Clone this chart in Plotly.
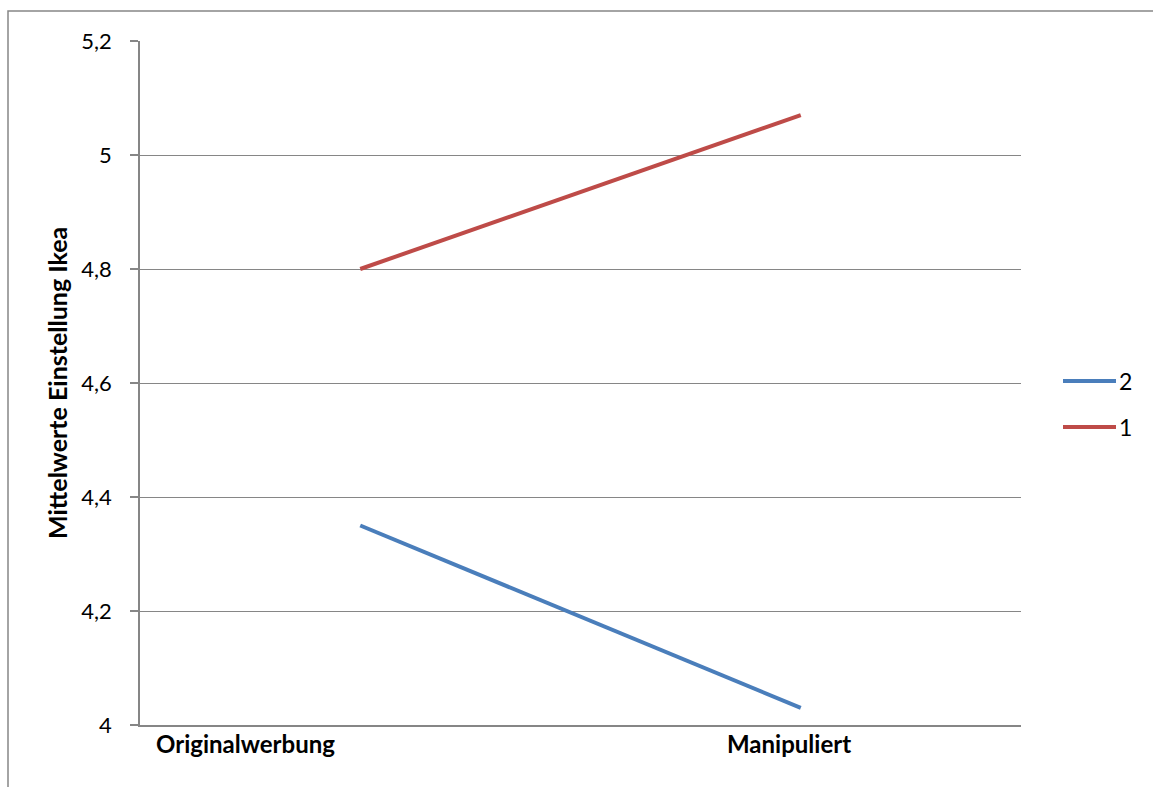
import plotly.graph_objects as go

# Mean attitude towards Ikea by ad version and group
categories = ["Originalwerbung", "Manipuliert"]
series_names = ["2", "1"]
series_values = [
    [4.35, 4.03],   # group 2
    [4.80, 5.07],   # group 1
]
series_colors = ["#4A7EBB", "#BE4B48"]
y_ticks = [4.0, 4.2, 4.4, 4.6, 4.8, 5.0, 5.2]
y_tick_labels = ["4", "4,2", "4,4", "4,6", "4,8", "5", "5,2"]

W, H = 1153, 787
L, R, T, B = 140, 132, 41, 62
pw, ph = W - L - R, H - T - B

def px_x(x):
    return (x - L) / pw

def px_y(y):
    return (H - B - y) / ph

FONT = "Lato, Calibri, Carlito, sans-serif"
GRID = "#868686"

fig = go.Figure()
for name, vals, col in zip(series_names, series_values, series_colors):
    fig.add_trace(go.Scatter(
        x=categories, y=vals, name=name, mode="lines",
        line=dict(color=col, width=4), showlegend=False,
    ))

# category labels below the axis
label_shift = [-115, -12]
annotations = []
for cat, dx in zip(categories, label_shift):
    annotations.append(dict(
        x=cat, y=0, xref="x", yref="paper", yanchor="top", yshift=-2,
        xshift=dx, text=f"<b>{cat}</b>", showarrow=False,
        font=dict(family=FONT, size=24, color="black"),
    ))

# y-axis title
annotations.append(dict(
    x=px_x(57), y=0.5, xref="paper", yref="paper",
    xanchor="center", yanchor="middle",
    text="<b>Mittelwerte Einstellung Ikea</b>", textangle=-90,
    showarrow=False, font=dict(family=FONT, size=25, color="black"),
))

# legend drawn at the right of the plot
shapes = []
legend_y = [381, 427]
for name, col, ly in zip(series_names, series_colors, legend_y):
    shapes.append(dict(
        type="line", xref="paper", yref="paper",
        x0=px_x(1063), x1=px_x(1116), y0=px_y(ly), y1=px_y(ly),
        line=dict(color=col, width=4),
    ))
    annotations.append(dict(
        x=px_x(1117), y=px_y(ly), xref="paper", yref="paper",
        xanchor="left", yanchor="middle", text=name, showarrow=False,
        font=dict(family=FONT, size=23, color="black"),
    ))

# outer chart frame
shapes.append(dict(
    type="rect", xref="paper", yref="paper",
    x0=px_x(8), x1=px_x(1200), y0=px_y(830), y1=px_y(11),
    line=dict(color=GRID, width=1.5), layer="below",
))

fig.update_layout(
    width=W, height=H,
    margin=dict(l=L, r=R, t=T, b=B, pad=0),
    plot_bgcolor="white", paper_bgcolor="white",
    font=dict(family=FONT, size=23, color="black"),
    xaxis=dict(
        type="category", range=[-0.5, 1.5], showgrid=False,
        showline=True, linecolor=GRID, linewidth=1.5,
        showticklabels=False, ticks="", zeroline=False,
        fixedrange=True,
    ),
    yaxis=dict(
        range=[4.0, 5.2], tickvals=y_ticks, ticktext=y_tick_labels,
        showgrid=True, gridcolor=GRID, gridwidth=1,
        showline=True, linecolor=GRID, linewidth=1.5,
        ticks="outside", ticklen=8, tickcolor=GRID, tickwidth=1.5,
        ticklabelstandoff=14, zeroline=False,
        tickfont=dict(family=FONT, size=22, color="black"),
    ),
    annotations=annotations, shapes=shapes, showlegend=False,
)

fig.write_html("out.html")
